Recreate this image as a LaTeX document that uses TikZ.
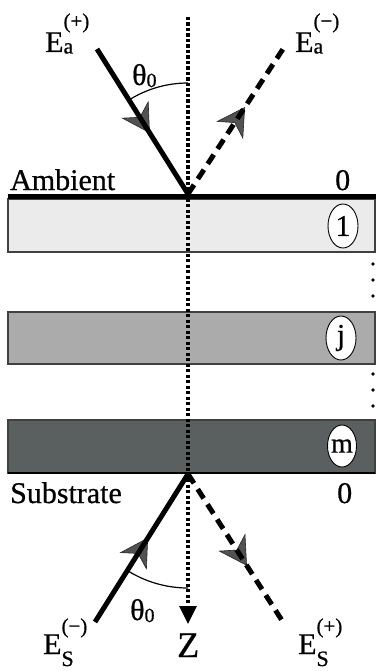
\documentclass[tikz,border=0pt]{standalone}
\usepackage{fontspec}
\setmainfont{Liberation Serif}[FakeBold=0.7]
\usetikzlibrary{arrows.meta,decorations.markings,shapes.geometric}
\newcommand\Elab[4]{E\rlap{\raisebox{#2}{\fontsize{22}{22}\selectfont #1}}\raisebox{#4}{\fontsize{21}{21}\selectfont(#3)}}
\newcommand\thlab{θ\raisebox{-2pt}{\fontsize{20}{20}\selectfont 0}}
\begin{document}
\begin{tikzpicture}[x=1pt,y=-1pt,
  lbl/.style={anchor=base west,inner sep=0pt,font=\fontsize{30}{30}\selectfont},
  layerbox/.style={draw=black!75,line width=1.2pt},
  numring/.style={draw=black,line width=0.9pt,fill=white},
  num/.style={inner sep=0pt,font=\fontsize{30}{30}\selectfont},
  ray/.style={line width=5pt},
  dray/.style={line width=5pt,dash pattern=on 11pt off 7pt},
  midarrow/.style={decoration={markings,mark=at position #1 with {\arrow{Stealth[length=28pt,width=32pt,inset=9pt,fill=black!68,color=black!85,line width=0.6pt]}}},postaction={decorate}},
  dotline/.style={line width=3.2pt,dash pattern=on 3.2pt off 2.3pt},
  anglearc/.style={line width=1.2pt},
  dot/.style={circle,fill=black,inner sep=0pt,minimum size=3.6pt}]
\useasboundingbox (0,0) rectangle (376,671);
% layers
\draw[layerbox,fill=black!8] (8,199) rectangle (375,252);
\draw[layerbox,fill=black!33] (8,312) rectangle (375,364);
\draw[layerbox,fill={rgb,255:red,90;green,96;blue,95}] (8,420) rectangle (375,473);
\draw[line width=2.5pt] (8,473) -- (375,473);
\draw[line width=5pt] (8,196) -- (376,196);
% dots
\foreach \yy [count=\i] in {264,280,296,374,390,406} \node[dot] (d\i) at (373,\yy) {};
% coordinates
\coordinate (Ia) at (97,49);
\coordinate (O1) at (188,194);
\coordinate (Ra) at (283,49);
\coordinate (O2) at (188,474);
\coordinate (Is) at (95,622);
\coordinate (Rs) at (283,622);
\coordinate (Ztop) at (188,17);
\coordinate (Ztip) at (188,624);
\coordinate (c1) at (343,226);
\coordinate (cj) at (341,338);
\coordinate (cm) at (342,446);
% normal
\draw[dotline,-{Triangle[length=18pt,width=17pt]}] (Ztop) -- (Ztip);
% ellipses
\draw[numring] (c1) ellipse[x radius=15,y radius=22];
\draw[numring] (cj) ellipse[x radius=15,y radius=22];
\draw[numring] (cm) ellipse[x radius=14.5,y radius=21];
\node[num] (n1) at (c1) {1};
\node[num] (nj) at (cj) {j};
\node[num,font=\fontsize{28}{28}\selectfont] (nm) at (cm) {m};
% angle arcs
\draw[anglearc] plot[domain=-90:-122,samples=30] ({188+111*cos(\x)},{194+111*sin(\x)});
\draw[anglearc] plot[domain=90:122,samples=30] ({188+114*cos(\x)},{474+114*sin(\x)});
% arrowheads under rays
\path[midarrow=0.58] (Ia) -- (O1);
\path[midarrow=0.60] (O1) -- (Ra);
\path[midarrow=0.57] (Is) -- (O2);
\path[midarrow=0.62] (O2) -- (Rs);
% rays
\draw[ray] (Ia) -- (O1);
\draw[dray] (O1) -- (Ra);
\draw[ray] (Is) -- (O2);
\draw[dray] (O2) -- (Rs);
% labels
\node[lbl] (Eap) at (45,52) {\Elab{a}{-1.5pt}{+}{24pt}};
\node[lbl] (Eam) at (295,52) {\Elab{a}{-1.5pt}{−}{24pt}};
\node[lbl] (Esm) at (43,654) {\Elab{S}{-12pt}{−}{21pt}};
\node[lbl] (Esp) at (298,654) {\Elab{S}{-12pt}{+}{21pt}};
\node[lbl] (th1) at (132,85) {\thlab};
\node[lbl] (th2) at (130,620) {\thlab};
\node[lbl] (amb) at (10,190) {Ambient};
\node[lbl] (z1) at (335,190) {0};
\node[lbl] (sub) at (10,503) {Substrate};
\node[lbl] (z2) at (337,503) {0};
\node[lbl,font=\fontsize{36}{36}\selectfont] (Z) at (177,657) {Z};
\end{tikzpicture}
\end{document}
